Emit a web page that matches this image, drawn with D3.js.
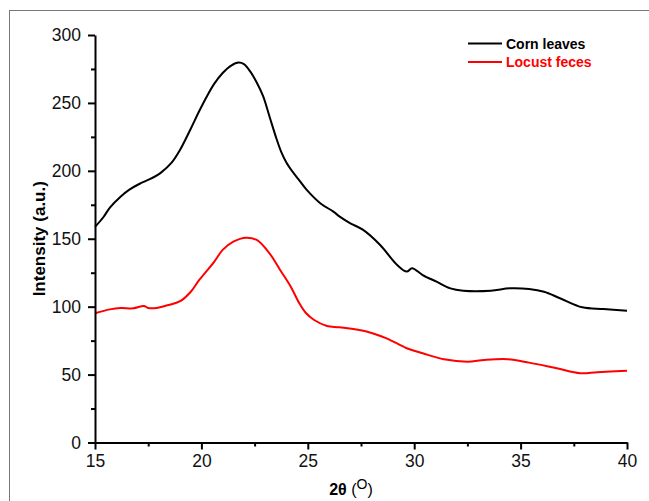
<!DOCTYPE html>
<html lang="en">
<head>
    <meta charset="UTF-8">
    <script src="https://cdn.jsdelivr.net/npm/d3@7"></script>
    <title>XRD</title>
    <style>
        body { margin: 0; background: #fff; }
        text { font-family: "Liberation Sans", Arial, sans-serif; }
    </style>
</head>
<body>
    <div class="fig"></div>
    <script>
        // 2theta positions and intensity values
        const cornTheta = [15.0, 15.4, 15.7, 16.2, 16.6, 17.1, 17.6, 18.1, 18.6, 19.0, 19.5, 19.9, 20.3, 20.6, 21.0, 21.4, 21.75, 22.0, 22.3, 22.6, 22.9, 23.2, 23.5, 23.75, 24.0, 24.3, 24.6, 24.95, 25.6, 26.2, 26.5, 27.0, 27.6, 28.4, 29.2, 29.65, 29.9, 30.4, 31.05, 31.7, 32.3, 33.6, 34.5, 35.4, 36.1, 36.85, 37.9, 38.9, 40.0];
        const cornIntensity = [158.7, 166, 173, 181, 186, 190.5, 194, 198.7, 206, 215.5, 231, 244, 256, 264, 272, 277.5, 279.7, 278.5, 273, 265, 255, 240, 225, 214, 206, 199, 193, 186, 176, 170, 166.3, 161.4, 156.5, 145.4, 130.7, 125.8, 128.3, 123.3, 118.4, 113.5, 111.8, 111.8, 113.5, 113, 111, 106.2, 99.5, 98.3, 97];

        const fecesTheta = [15.0, 15.7, 16.2, 16.8, 17.3, 17.5, 17.9, 18.4, 19.0, 19.5, 19.9, 20.6, 21.0, 21.5, 22.1, 22.6, 23.2, 23.7, 24.2, 24.6, 24.9, 25.3, 25.9, 26.5, 27.8, 28.7, 29.65, 30.4, 31.4, 32.5, 33.3, 34.4, 35.4, 36.7, 37.8, 38.6, 40.0];
        const fecesIntensity = [95.1, 98, 99, 98.8, 100.5, 99, 99, 101, 104, 111, 119.7, 133, 141.8, 147.9, 150.8, 149.1, 139.3, 127, 114.7, 102.5, 95.5, 90.2, 85.8, 84.8, 81.6, 76.7, 69.4, 65.7, 61.3, 59.5, 60.8, 61.3, 58.8, 54.6, 51, 51.7, 52.9];

        const xTicks = [15, 20, 25, 30, 35, 40];
        const yTicks = [0, 50, 100, 150, 200, 250, 300];
        const seriesNames = ["Corn leaves", "Locust feces"];
        const seriesColors = ["#000000", "#ff0000"];

        const width = 649, height = 501;
        const margin = { left: 95, right: 22, top: 35, bottom: 58.5 };

        const svg = d3.select(".fig").append("svg")
            .attr("width", width)
            .attr("height", height);

        // outer frame
        svg.append("rect")
            .attr("x", 9.5).attr("y", 10.5)
            .attr("width", 700).attr("height", 600)
            .attr("fill", "none")
            .attr("stroke", "#777")
            .attr("stroke-width", 1);

        const x = d3.scaleLinear().domain([15, 40]).range([margin.left, width - margin.right]);
        const y = d3.scaleLinear().domain([0, 300]).range([height - margin.bottom, margin.top]);

        const line = d3.line()
            .x(d => x(d[0]))
            .y(d => y(d[1]))
            .curve(d3.curveCatmullRom.alpha(0.5));

        const series = [
            d3.zip(cornTheta, cornIntensity),
            d3.zip(fecesTheta, fecesIntensity)
        ];

        series.forEach((pts, i) => {
            svg.append("path")
                .datum(pts)
                .attr("d", line)
                .attr("fill", "none")
                .attr("stroke", seriesColors[i])
                .attr("stroke-width", 2)
                .attr("stroke-linejoin", "round");
        });

        // minor ticks first, then major axis on top
        const xMinor = d3.range(17.5, 40, 5);
        const yMinor = d3.range(25, 300, 50);

        svg.append("g")
            .attr("transform", `translate(0,${y(0)})`)
            .call(d3.axisBottom(x).tickValues(xMinor).tickSize(4).tickFormat(""))
            .call(g => g.select(".domain").remove())
            .call(g => g.selectAll("line").attr("stroke-width", 2));

        svg.append("g")
            .attr("transform", `translate(${x(15)},0)`)
            .call(d3.axisLeft(y).tickValues(yMinor).tickSize(4).tickFormat(""))
            .call(g => g.select(".domain").remove())
            .call(g => g.selectAll("line").attr("stroke-width", 2));

        const xAxis = svg.append("g")
            .attr("transform", `translate(0,${y(0)})`)
            .call(d3.axisBottom(x).tickValues(xTicks).tickSize(7).tickPadding(5).tickSizeOuter(0));
        xAxis.selectAll("text").attr("font-size", 17.5).attr("fill", "#111").attr("font-family", "Liberation Sans, Arial, sans-serif");

        const yAxis = svg.append("g")
            .attr("transform", `translate(${x(15)},0)`)
            .call(d3.axisLeft(y).tickValues(yTicks).tickSize(7).tickPadding(7).tickSizeOuter(0));
        yAxis.selectAll("text").attr("font-size", 17.5).attr("fill", "#111").attr("font-family", "Liberation Sans, Arial, sans-serif");

        [xAxis, yAxis].forEach(g => {
            g.select(".domain").attr("stroke-width", 2);
            g.selectAll(".tick line").attr("stroke-width", 2);
        });

        // axis titles
        const xt = svg.append("text")
            .attr("x", 351)
            .attr("y", 495)
            .attr("text-anchor", "middle")
            .attr("font-size", 16)
            .attr("font-weight", "bold");
        xt.append("tspan").text("2θ ");
        xt.append("tspan").attr("font-weight", "normal").text("(");
        xt.append("tspan").attr("font-weight", "normal").attr("font-size", 14).attr("dy", -6).text("O");
        xt.append("tspan").attr("font-weight", "normal").attr("dy", 6).text(")");

        svg.append("text")
            .attr("transform", `translate(45,${y(150)}) rotate(-90)`)
            .attr("text-anchor", "middle")
            .attr("font-size", 17)
            .attr("font-weight", "bold")
            .text("Intensity (a.u.)");

        // legend
        const legend = svg.append("g").attr("transform", "translate(468,43.5)");
        seriesNames.forEach((name, i) => {
            const row = legend.append("g").attr("transform", `translate(0,${i * 18.5})`);
            row.append("line")
                .attr("x1", 0).attr("x2", 34)
                .attr("stroke", seriesColors[i])
                .attr("stroke-width", 2);
            row.append("text")
                .attr("x", 38).attr("y", 5)
                .attr("font-size", 14)
                .attr("font-weight", "bold")
                .attr("fill", seriesColors[i])
                .text(name);
        });
    </script>
</body>
</html>
